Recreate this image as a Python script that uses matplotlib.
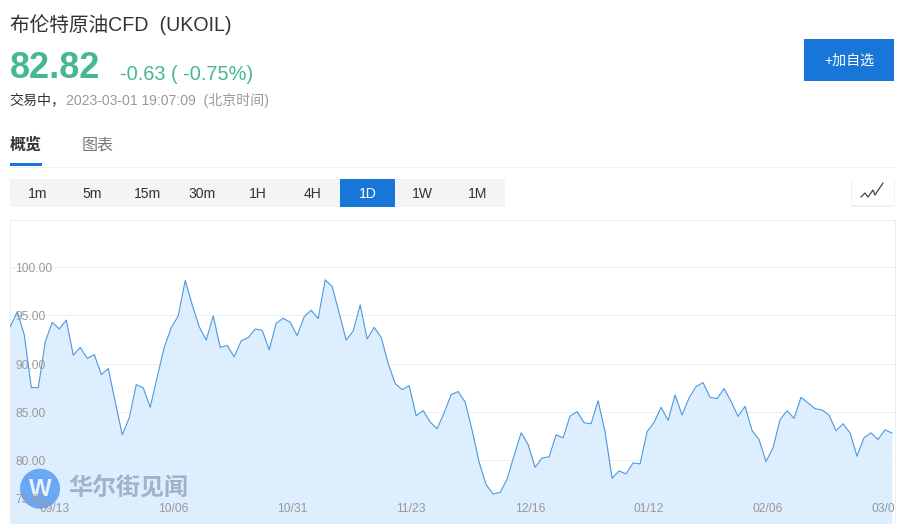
import matplotlib
matplotlib.use("Agg")
import matplotlib.pyplot as plt
from matplotlib.patches import Rectangle, Circle

plt.rcParams['font.family'] = ['Liberation Sans', 'Noto Sans CJK SC', 'DejaVu Sans']

prices = [
    93.83, 95.39, 92.96, 87.52, 87.52, 92.27, 94.28, 93.59, 94.52, 90.88,
    91.68, 90.54, 90.95, 88.87, 89.50, 86.03, 82.63, 84.40, 87.83, 87.49,
    85.48, 88.63, 91.68, 93.73, 94.94, 98.61, 96.08, 93.83, 92.44, 94.94,
    91.68, 91.89, 90.71, 92.37, 92.69, 93.59, 93.45, 91.44, 94.18, 94.70,
    94.28, 92.89, 94.87, 95.53, 94.66, 98.68, 97.99, 95.22, 92.44, 93.38,
    96.08, 92.55, 93.76, 92.72, 90.02, 87.94, 87.31, 87.73, 84.61, 85.13,
    83.95, 83.26, 84.92, 86.79, 87.11, 86.03, 83.08, 79.79, 77.47, 76.50,
    76.67, 78.06, 80.49, 82.84, 81.63, 79.27, 80.24, 80.35, 82.63, 82.32,
    84.58, 85.03, 83.88, 83.78, 86.17, 82.91, 78.13, 78.89, 78.58, 79.72,
    79.62, 82.95, 83.92, 85.48, 84.12, 86.76, 84.68, 86.45, 87.63, 88.04,
    86.52, 86.38, 87.42, 86.10, 84.54, 85.58, 83.08, 82.15, 79.86, 81.28,
    84.19, 85.13, 84.33, 86.52, 85.93, 85.34, 85.20, 84.68, 83.05, 83.78,
    82.84, 80.42, 82.32, 82.84, 82.15, 83.15, 82.81,
]
date_positions = [6, 23, 40, 57, 74, 91, 108, 125]
date_labels = ['09/13', '10/06', '10/31', '11/23', '12/16', '01/12', '02/06', '03/01']
grid_values = [80, 85, 90, 95, 100]
price_labels = ['75.00', '80.00', '85.00', '90.00', '95.00', '100.00']
label_values = [76.1, 80, 85, 90, 95, 100]
periods = ['1m', '5m', '15m', '30m', '1H', '4H', '1D', '1W', '1M']

W, H = 904, 531
BLUE = '#1976d9'
GREEN = '#45b795'

fig = plt.figure(figsize=(W / 100, H / 100), dpi=100, facecolor='white')

# page furniture, in pixel coordinates
page = fig.add_axes([0, 0, 1, 1])
page.set_xlim(0, W)
page.set_ylim(H, 0)
page.axis('off')


def px(size):
    return size * 0.72


page.text(10, 25, '布伦特原油CFD  (UKOIL)', fontsize=px(19.7), color='#333333', va='center')
page.text(10, 69, '82.82', fontsize=px(36), fontweight='bold', color=GREEN, va='center')
page.text(120, 74, '-0.63 ( -0.75%)', fontsize=px(20), color=GREEN, va='center')
page.text(9.5, 100, '交易中，', fontsize=px(14), color='#333333', va='center')
page.text(66, 100, '2023-03-01 19:07:09  (北京时间)', fontsize=px(14), color='#999999', va='center')

page.text(10, 145.5, '概览', fontsize=px(16), fontweight='bold', color='#333333', va='center')
page.text(82, 145.5, '图表', fontsize=px(16), color='#777777', va='center')
page.plot([10, 894], [166.5, 166.5], color='#f0f0f0', lw=0.72)
page.add_patch(Rectangle((10, 163), 32, 3, color=BLUE, lw=0, zorder=3))

page.add_patch(Rectangle((804, 39), 90, 42, color=BLUE, lw=0))
page.text(849, 60.5, '+加自选', fontsize=px(14), color='white', ha='center', va='center')

page.add_patch(Rectangle((10, 179), 495, 28, color='#f3f4f6', lw=0))
page.add_patch(Rectangle((340, 179), 55, 28, color=BLUE, lw=0, zorder=2))
for i, name in enumerate(periods):
    page.text(37.5 + 55 * i, 194, name, fontsize=px(14), ha='center', va='center', zorder=3,
              color='white' if name == '1D' else '#333333')

page.add_patch(Rectangle((851, 180), 44, 26.5, facecolor='#f0f0f0', lw=0))
page.add_patch(Rectangle((852, 179), 42, 25.5, facecolor='white', lw=0))
page.plot([861, 865, 868, 873, 875, 883], [197, 193, 197, 190, 195, 183], color='#444444', lw=0.9)

# chart box
page.plot([10.5, 10.5, 895.5, 895.5], [523, 219.5, 219.5, 523], color='#eeeeee', lw=0.72)

# price chart
left, right, top, bottom = 10, 895, 219.5, 522.7
ax = fig.add_axes([left / W, 1 - bottom / H, (right - left) / W, (bottom - top) / H])
ax.patch.set_alpha(0)
step = (892 - 10.3) / (len(prices) - 1)
ax.set_xlim(-0.3 / step, len(prices) - 1 + 3 / step)
ax.set_ylim(73.53, 104.93)
for spine in ax.spines.values():
    spine.set_visible(False)
ax.set_xticks([])
ax.set_yticks([])

for value in grid_values:
    ax.axhline(value, color='#eeeeee', lw=0.72, zorder=1)

x = list(range(len(prices)))
ax.fill_between(x, prices, 70, color='#ddeeff', lw=0, zorder=2)
ax.plot(x, prices, color='#4a98e0', lw=0.8, zorder=3)

# watermark sits under the axis labels
ax.add_patch(Circle((40, 488.7), 20, color='#6aa8f5', lw=0, transform=page.transData, zorder=3.2))
ax.text(40, 489, 'W', fontsize=px(24), fontweight='bold', color='#e8f2fc', ha='center', va='center',
        transform=page.transData, zorder=3.3)
ax.text(68, 489, '华尔街见闻', fontsize=px(24), fontweight='bold', color='#9fb2c6', va='center',
        transform=page.transData, zorder=3.3)

yaxis_tf = ax.get_yaxis_transform()
for value, label in zip(label_values, price_labels):
    ax.annotate(label, (5.5 / (right - left), value), xycoords=yaxis_tf, xytext=(0, -1.5),
                textcoords='offset points', fontsize=px(12), color='#999999', va='center', zorder=4)

xaxis_tf = ax.get_xaxis_transform()
for pos, label in zip(date_positions, date_labels):
    ax.annotate(label, (pos, 0.05), xycoords=xaxis_tf, xytext=(1.5, -0.8),
                textcoords='offset points', fontsize=px(12), color='#999999',
                ha='center', va='center', zorder=4, annotation_clip=False, clip_on=True)

fig.savefig('out.png', dpi=100, facecolor='white')
